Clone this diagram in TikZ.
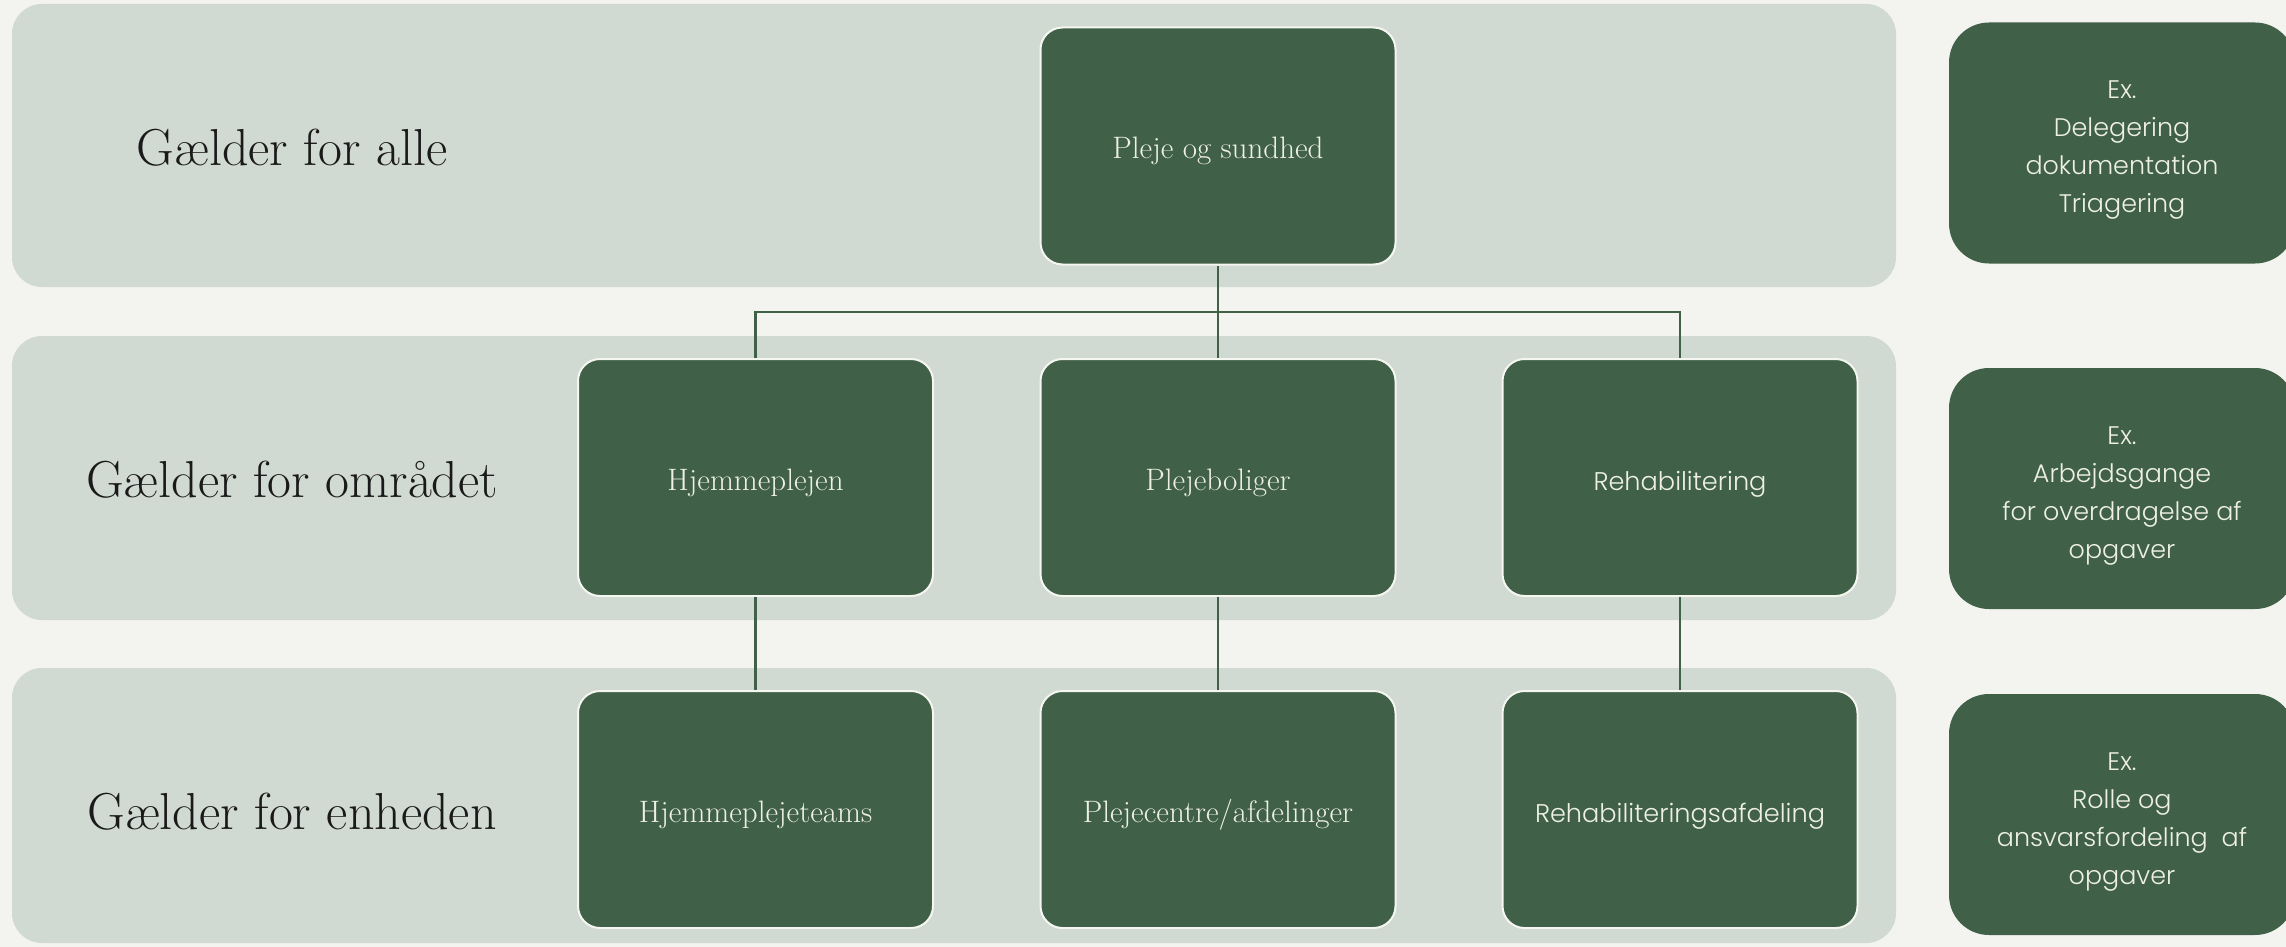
\documentclass[tikz,border=0pt]{standalone}
\usepackage{fontspec}
\setsansfont{Poppins Light}
\definecolor{dgreen}{RGB}{64,96,72}
\definecolor{bandc}{RGB}{209,217,211}
\definecolor{bgc}{RGB}{243,244,239}
\definecolor{ltext}{RGB}{238,240,230}
\definecolor{dtext}{RGB}{26,26,26}
\definecolor{boxline}{RGB}{245,246,240}
\begin{document}
\begin{tikzpicture}[x=0.5pt,y=-0.5pt,
 box/.style={draw=boxline, line width=1pt, fill=dgreen, rounded corners=11pt, minimum width=177.5pt, minimum height=118.5pt, inner sep=0pt, text height=13pt, text depth=0pt, text=ltext, font=\fontsize{15.5}{18}\selectfont},
 sbox/.style={box, font=\sffamily\fontsize{12.8}{15}\selectfont},
 exbox/.style={fill=dgreen, rounded corners=20pt, minimum width=173pt, minimum height=120.5pt, inner sep=0pt, text height=70pt, text depth=0pt, text=ltext, align=center, font=\sffamily\fontsize{12.7}{19}\selectfont},
 lbl/.style={text=dtext, font=\fontsize{26}{30}\selectfont},
 conn/.style={draw=dgreen, line width=1.2pt},
 band/.style={fill=bandc, rounded corners=15pt}]
\useasboundingbox (0,0) rectangle (2286,947);
\fill[bgc] (0,0) rectangle (2286,947);
% bands
\fill[band] (12,4) rectangle (1896,287);
\fill[band] (12,336) rectangle (1896,620);
\fill[band] (12,668) rectangle (1896,943);
% left labels
\node[lbl] (l1) at (292,148) {Gælder for alle};
\node[lbl] (l2) at (292,480) {Gælder for området};
\node[lbl] (l3) at (292,812) {Gælder for enheden};
% boxes
\node[box] (top) at (1218,146) {Pleje og sundhed};
\node[box] (m1) at (755.5,477.5) {Hjemmeplejen};
\node[box] (m2) at (1218,477.5) {Plejeboliger};
\node[sbox] (m3) at (1680,477.5) {Rehabilitering};
\node[box] (b1) at (755.5,809.5) {Hjemmeplejeteams};
\node[box] (b2) at (1218,809.5) {Plejecentre/afdelinger};
\node[sbox] (b3) at (1680,809.5) {Rehabiliteringsafdeling};
% connectors
\coordinate (bar) at (1218,312);
\draw[conn] (top.south) -- (bar);
\draw[conn] (m1.north) |- (bar) -| (m3.north);
\draw[conn] (bar) -- (m2.north);
\draw[conn] (m1.south) -- (b1.north);
\draw[conn] (m2.south) -- (b2.north);
\draw[conn] (m3.south) -- (b3.north);
% right example boxes
\node[exbox] (e1) at (2122,143) {Ex.\\Delegering\\dokumentation\\Triagering};
\node[exbox] (e2) at (2122,488.5) {Ex.\\Arbejdsgange\\for overdragelse af\\opgaver};
\node[exbox] (e3) at (2122,814.5) {Ex.\\Rolle og\\ansvarsfordeling~ af\\opgaver};
\end{tikzpicture}
\end{document}
